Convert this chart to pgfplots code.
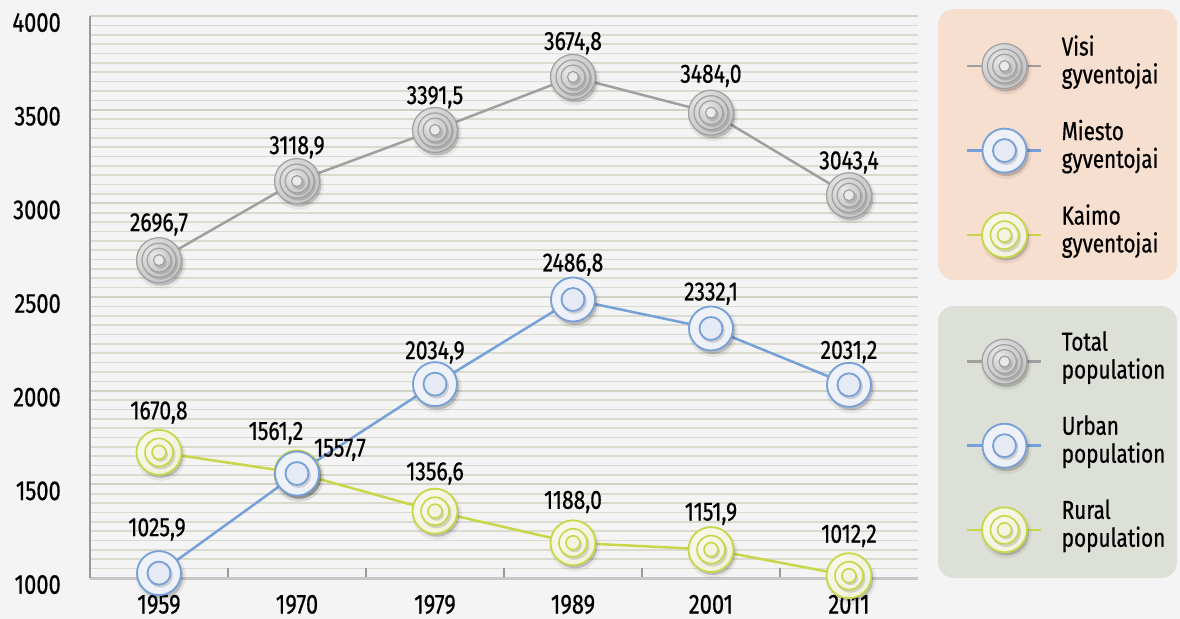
\documentclass[border=0pt]{standalone}
\usepackage{pgfplots}
\pgfplotsset{compat=1.18}
\usepackage{pgfplotstable}
\usepackage{fontspec}
\setmainfont{Fira Sans}[FakeStretch=0.8, FakeBold=0.6]

\definecolor{bg}{HTML}{F4F4F4}
\definecolor{gridc}{HTML}{DADBCF}
\definecolor{gridmaj}{HTML}{D0D2C4}
\definecolor{totline}{HTML}{A0A0A0}
\definecolor{urbline}{HTML}{76A0D8}
\definecolor{rurline}{HTML}{C8D64A}
\definecolor{peach}{HTML}{F7DFD0}
\definecolor{sage}{HTML}{DCE0D6}
\definecolor{totHi}{HTML}{EAEAEA}
\definecolor{totA}{HTML}{B4B4B4}
\definecolor{totB}{HTML}{D0D0D0}
\definecolor{totS}{HTML}{A0A0A0}
\definecolor{urbF}{HTML}{EEF1F8}
\definecolor{urbI}{HTML}{E6EAF5}
\definecolor{rurHi}{HTML}{F8F9EC}
\definecolor{rurA}{HTML}{E8EBC8}
\definecolor{rurI}{HTML}{F3F4E0}

\pgfdeclareradialshading{totsh}{\pgfpoint{-12bp}{12bp}}{%
  color(0bp)=(totHi); color(22bp)=(totB); color(50bp)=(totA)}
\pgfdeclareradialshading{rursh}{\pgfpoint{-12bp}{12bp}}{%
  color(0bp)=(rurHi); color(25bp)=(rurI); color(50bp)=(rurA)}

\newcommand{\mkshadow}{%
  \pgfsetfillcolor{black}%
  \pgfsetfillopacity{0.06}%
  \pgfpathcircle{\pgfpoint{2bp}{-3.5bp}}{25bp}\pgfusepath{fill}%
  \pgfsetfillopacity{0.18}%
  \pgfpathcircle{\pgfpoint{2bp}{-3bp}}{22.5bp}\pgfusepath{fill}%
  \pgfsetfillopacity{1}}
\newcommand{\ring}[4]{% radius, fill, stroke, width
  \pgfsetfillcolor{#2}\pgfsetstrokecolor{#3}\pgfsetlinewidth{#4}%
  \pgfpathcircle{\pgfpointorigin}{#1}\pgfusepath{fill,stroke}}
\newcommand{\shring}[4]{% radius, shading, stroke, width
  \pgfsetstrokecolor{#3}\pgfsetlinewidth{#4}%
  \pgfpathcircle{\pgfpointorigin}{#1}\pgfshadepath{#2}{0}\pgfusepath{stroke}}
\newcommand{\inshadow}[1]{%
  \pgfsetfillcolor{black}\pgfsetfillopacity{0.14}%
  \pgfpathcircle{\pgfpoint{1.5bp}{-2bp}}{#1}\pgfusepath{fill}%
  \pgfsetfillopacity{1}}

\pgfdeclareplotmark{totmark}{%
  \mkshadow
  \shring{22.5bp}{totsh}{totS}{1.2bp}%
  \inshadow{17.5bp}%
  \shring{17bp}{totsh}{totS}{1.2bp}%
  \inshadow{12.5bp}%
  \shring{12bp}{totsh}{totS}{1.2bp}%
  \inshadow{6.5bp}%
  \ring{5.5bp}{totHi}{totS}{1.2bp}}
\pgfdeclareplotmark{urbmark}{%
  \mkshadow
  \ring{22bp}{urbF}{urbline}{1.8bp}%
  \inshadow{12.5bp}%
  \ring{11.5bp}{urbI}{urbline}{1.8bp}}
\pgfdeclareplotmark{rurmark}{%
  \mkshadow
  \shring{22.5bp}{rursh}{rurline}{1.8bp}%
  \inshadow{15bp}%
  \shring{14bp}{rursh}{rurline}{1.6bp}%
  \inshadow{7.5bp}%
  \ring{7bp}{rurI}{rurline}{1.6bp}}

\pgfplotstableread{
x y lab dx dy
0 2696.7 2696,7 0 39
1 3118.9 3118,9 0 37
2 3391.5 3391,5 0 36
3 3674.8 3674,8 0 37
4 3484.0 3484,0 0 40
5 3043.4 3043,4 0 36
}\total
\pgfplotstableread{
x y lab dx dy
0 1025.9 1025,9 -2 47
1 1557.7 1557,7 43 27
2 2034.9 2034,9 0 35
3 2486.8 2486,8 0 38
4 2332.1 2332,1 0 38
5 2031.2 2031,2 0 36
}\urban
\pgfplotstableread{
x y lab dx dy
0 1670.8 1670,8 0 43
1 1561.2 1561,2 -21 43
2 1356.6 1356,6 0 41
3 1188.0 1188,0 0 44
4 1151.9 1151,9 0 39
5 1012.2 1012,2 0 43
}\rural

\pgfplotsset{
  lbl/.style={
    nodes near coords, point meta=explicit symbolic,
    visualization depends on={\thisrow{dx} \as \dx},
    visualization depends on={\thisrow{dy} \as \dy},
    every node near coord/.append style={anchor=base, inner sep=0pt,
      font=\fontsize{26.5}{27}\selectfont, text=black,
      xshift={\dx*1bp}, yshift={(\dy-10)*1bp}}},
  legimg/.style n args={2}{legend image code/.code={%
    \path (0bp,-38bp);
    \draw[#1, line width=2.5bp] (0bp,-6bp) -- (74bp,-6bp);
    \begin{scope}[shift={(37bp,-6bp)}]\pgfuseplotmark{#2}\end{scope}}},
  legsty/.style={legend style={at={(1.058,#1)}, anchor=north west,
    draw=none, fill=none, inner sep=0pt, row sep=21.5bp, column sep=19bp,
    font=\fontsize{26}{28}\selectfont,
    nodes={inner sep=0pt, align=left}},
    legend cell align=left},
}

\begin{document}
\begin{tikzpicture}
\fill[bg] (0,0) rectangle (1180bp,-619bp);
\useasboundingbox (0,0) rectangle (1180bp,-619bp);
\fill[peach, rounded corners=16bp] (938bp,-9bp) rectangle (1177bp,-280bp);
\fill[sage, rounded corners=16bp] (938bp,-306bp) rectangle (1177bp,-578bp);
\begin{axis}[
  at={(90bp,-578bp)}, anchor=south west,
  width=828bp, height=562bp, scale only axis,
  xmin=-0.5, xmax=5.5, ymin=1000, ymax=4000,
  axis x line=bottom, axis y line=left,
  axis line style={-},
  x axis line style={draw=black!22, line width=3bp},
  y axis line style={draw=black!40, line width=2bp},
  xtick={0,...,5}, xticklabels={1959,1970,1979,1989,2001,2011},
  minor xtick={0.5,1.5,2.5,3.5,4.5},
  ytick={1000,1500,...,4000},
  minor ytick={1000,1050,...,4000},
  ymajorgrids, yminorgrids,
  major grid style={gridmaj, line width=2.2bp},
  minor grid style={gridc, line width=1.6bp},
  major tick length=0pt, minor tick length=10bp, tick align=inside,
  minor x tick style={draw=black!40, line width=1.5bp},
  minor y tick style={draw=none},
  tick label style={font=\fontsize{27.5}{28}\selectfont, text=black},
  xticklabel style={anchor=base, inner sep=0pt, yshift=-35.5bp},
  yticklabel style={anchor=base east, inner sep=0pt, xshift=-29bp, yshift=-15.7bp},
  /pgf/number format/assume math mode=true,
  /pgf/number format/1000 sep={},
  clip=false,
  legsty=0.966,
]
\addplot[rurline, line width=2.5bp, mark=rurmark, lbl, forget plot]
  table[x=x, y=y, meta=lab] {\rural};
\addplot[urbline, line width=2.5bp, mark=urbmark, lbl, forget plot]
  table[x=x, y=y, meta=lab] {\urban};
\addplot[totline, line width=2.5bp, mark=totmark, lbl, forget plot]
  table[x=x, y=y, meta=lab] {\total};

\addlegendimage{legimg={totline}{totmark}}
\addlegendentry{Visi\\gyventojai}
\addlegendimage{legimg={urbline}{urbmark}}
\addlegendentry{Miesto\\gyventojai}
\addlegendimage{legimg={rurline}{rurmark}}
\addlegendentry{Kaimo\\gyventojai}
\end{axis}

\begin{axis}[
  at={(90bp,-578bp)}, anchor=south west,
  width=828bp, height=562bp, scale only axis,
  hide axis, xmin=0, xmax=1, ymin=0, ymax=1,
  legsty=0.4395,
]
\addlegendimage{legimg={totline}{totmark}}
\addlegendentry{Total\\population}
\addlegendimage{legimg={urbline}{urbmark}}
\addlegendentry{Urban\\population}
\addlegendimage{legimg={rurline}{rurmark}}
\addlegendentry{Rural\\population}
\end{axis}
\end{tikzpicture}
\end{document}
